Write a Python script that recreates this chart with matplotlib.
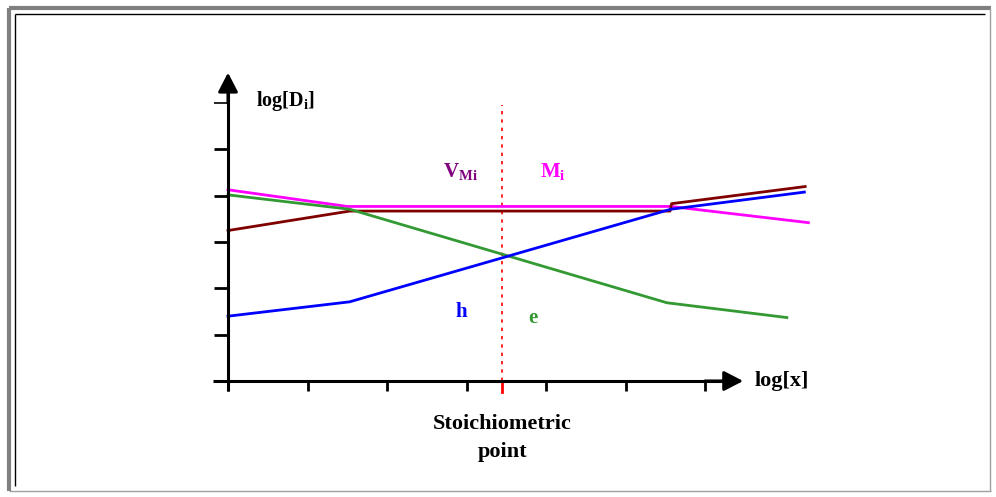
import matplotlib
matplotlib.use("Agg")
import matplotlib.pyplot as plt
from matplotlib.lines import Line2D

# values, in tick units (x: log[x], y: log[Di])
x_mag = [0.0, 1.50, 5.57, 7.30]
y_mag = [4.13, 3.77, 3.77, 3.42]

x_green = [0.0, 1.53, 5.52, 7.03]
y_green = [4.02, 3.71, 1.69, 1.37]

x_blue = [0.0, 1.53, 5.57, 7.25]
y_blue = [1.40, 1.71, 3.71, 4.08]

x_brown = [0.0, 1.53, 5.56, 5.58, 7.26]
y_brown = [3.25, 3.67, 3.67, 3.83, 4.20]

x_ticks = [0, 1, 2, 3, 4, 5, 6]
y_ticks = [1, 2, 3, 4, 5, 6]
stoich_x = 3.45

W, H = 996, 497
# pixel geometry of the drawing
ox, oy = 228, 381          # origin in pixels
sx, sy = 79.5, 46.3        # pixels per tick

plt.rcParams["mathtext.fontset"] = "custom"
plt.rcParams["mathtext.rm"] = "Liberation Serif:bold"
plt.rcParams["mathtext.bf"] = "Liberation Serif:bold"
plt.rcParams["mathtext.it"] = "Liberation Serif:bold"

fig = plt.figure(figsize=(W / 100, H / 100), dpi=100)
ax = fig.add_axes([0, 0, 1, 1])
ax.set_xlim(-ox / sx, (W - ox) / sx)
ax.set_ylim((oy - H) / sy, oy / sy)
ax.axis("off")

lw = 2.0
ax.plot(x_mag, y_mag, color="#ff00ff", lw=lw, zorder=3)
ax.plot(x_brown, y_brown, color="#800000", lw=lw, zorder=3)
ax.plot(x_green, y_green, color="#339933", lw=lw, zorder=3)
ax.plot(x_blue, y_blue, color="#0000ff", lw=lw, zorder=4)

# stoichiometric line
ax.plot([stoich_x, stoich_x], [0, 5.96], color="#ff0000", lw=1.2,
        ls=(0, (2, 3)), zorder=2)
ax.plot([stoich_x, stoich_x], [0, -0.24], color="#ff0000", lw=2, zorder=5)

# axes with arrows
axis_lw = 2.2
ax.plot([-0.19, 6.3], [0, 0], color="black", lw=axis_lw, zorder=5,
        solid_capstyle="butt")
ax.plot([0, 0], [-0.22, 6.4], color="black", lw=axis_lw, zorder=5,
        solid_capstyle="butt")
ax.annotate("", xy=(6.48, 0), xytext=(6.0, 0),
            arrowprops=dict(arrowstyle="-|>,head_length=0.58,head_width=0.3",
                            mutation_scale=20, color="black", lw=axis_lw,
                            shrinkA=0, shrinkB=0), zorder=6)
ax.annotate("", xy=(0, 6.66), xytext=(0, 6.0),
            arrowprops=dict(arrowstyle="-|>,head_length=0.58,head_width=0.3",
                            mutation_scale=20, color="black", lw=axis_lw,
                            shrinkA=0, shrinkB=0), zorder=6)

for t in x_ticks:
    ax.plot([t, t], [0, -10 / sy], color="black", lw=2, zorder=5,
            solid_capstyle="butt")
for t in y_ticks:
    ax.plot([-14 / sx, 0], [t, t], color="black",
            lw=1.2 if t == 6 else 2, zorder=5, solid_capstyle="butt")

font = dict(family="Liberation Serif", weight="bold")
ax.text(28 / sx, (oy - 101) / sy, r"log[D$_{\mathbf{i}}$]", fontsize=14.5,
        ha="left", va="center", color="black", **font)
ax.text(6.48 + 11 / sx, 0, "log[x]", fontsize=16, ha="left", va="center",
        color="black", **font)
ax.text(stoich_x, (oy - 424) / sy, "Stoichiometric", fontsize=16,
        ha="center", va="center", color="black", **font)
ax.text(stoich_x, (oy - 452) / sy, "point", fontsize=16,
        ha="center", va="center", color="black", **font)
ax.text((443 - ox) / sx, (oy - 172) / sy, r"V$_{\mathbf{Mi}}$", fontsize=15,
        ha="left", va="center", color="#800080", **font)
ax.text((540 - ox) / sx, (oy - 172) / sy, r"M$_{\mathbf{i}}$", fontsize=15,
        ha="left", va="center", color="#ff00ff", **font)
ax.text((461 - ox) / sx, (oy - 312) / sy, "h", fontsize=15,
        ha="center", va="center", color="#0000ff", **font)
ax.text((533 - ox) / sx, (oy - 318) / sy, "e", fontsize=15,
        ha="center", va="center", color="#339933", **font)

# frame around the picture
def px_line(x0, y0, x1, y1, color, width):
    fig.add_artist(Line2D([x0 / W, x1 / W], [1 - y0 / H, 1 - y1 / H],
                          transform=fig.transFigure, color=color,
                          lw=width, solid_capstyle="butt"))

px_line(9, 8, 991, 8, "#808080", 3)
px_line(9, 8, 9, 491, "#808080", 3)
px_line(15, 14, 985, 14, "black", 1)
px_line(15, 14, 15, 486, "black", 1)
px_line(9, 491, 991, 491, "#a0a0a0", 1)
px_line(990, 8, 990, 491, "#a0a0a0", 1)

fig.savefig("out.png", dpi=100)
